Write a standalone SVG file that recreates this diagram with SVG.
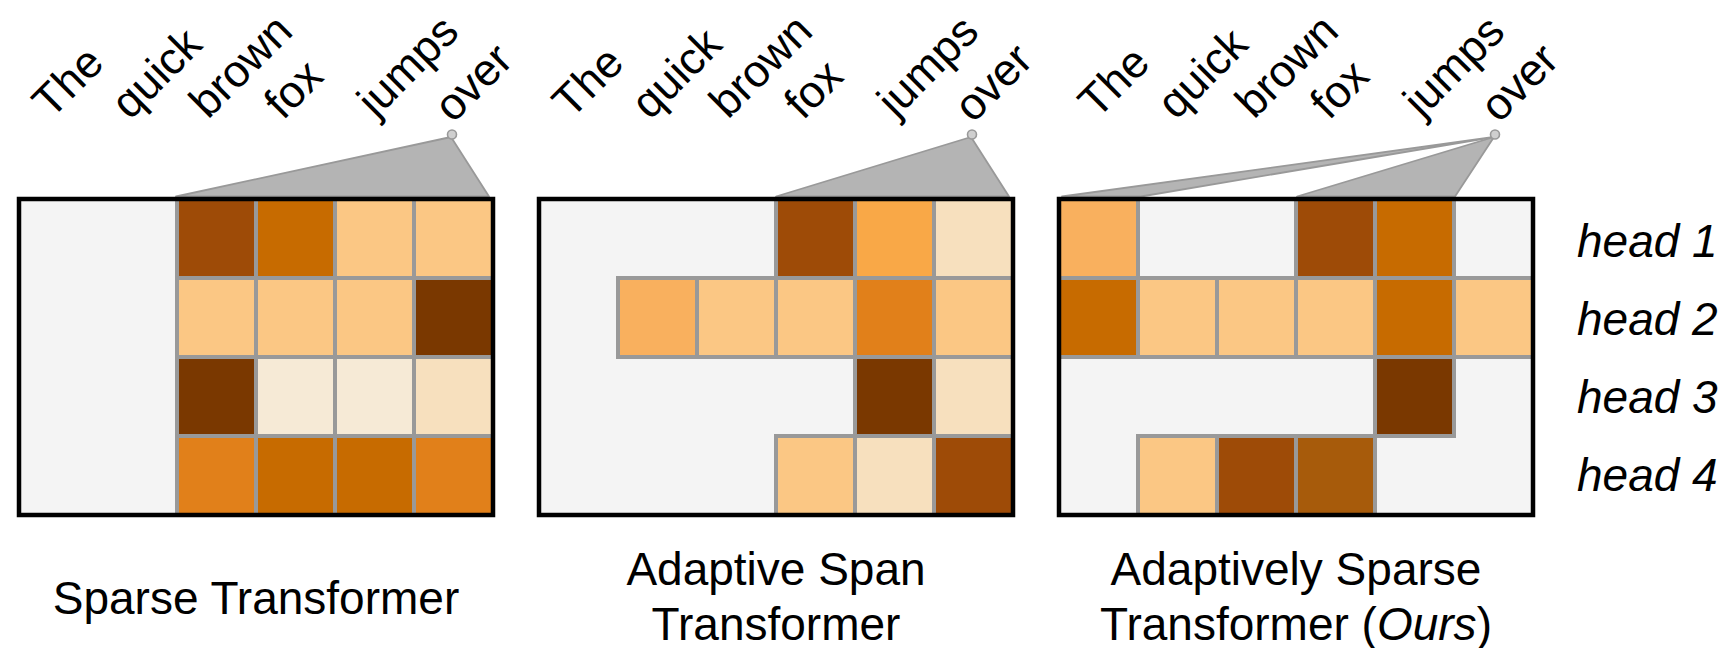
<svg xmlns="http://www.w3.org/2000/svg" width="1726" height="648" viewBox="0 0 1726 648">
<style>
.bg{fill:#ffffff}
.panel{fill:#f4f4f4;stroke:none}
.frame{fill:none;stroke:#000;stroke-width:4.5}
.c{stroke:#999;stroke-width:4}
.E{fill:#f4f4f4}.L{fill:#fbc784}.M{fill:#f9a847}.N{fill:#f9b05e}.O{fill:#e1801a}.D{fill:#c76b00}.B{fill:#9e4b07}.B2{fill:#a75b0b}.X{fill:#7a3800}.P{fill:#f7e0be}.V{fill:#f6ead6}
.fan{fill:#b4b4b4;stroke:#999;stroke-width:1.8;stroke-linejoin:round}
.dot{fill:#cfcfcf;stroke:#999;stroke-width:1.6}
.w{font-family:"Liberation Sans",Arial,sans-serif;font-size:45px;fill:#000}
.h{font-family:"Liberation Sans",Arial,sans-serif;font-size:46px;font-style:italic;fill:#000}
.t{font-family:"Liberation Sans",Arial,sans-serif;font-size:46px;fill:#000;text-anchor:middle}
</style>
<rect class="bg" x="0" y="0" width="1726" height="648"/>

<g id="connectors">
  <polygon class="fan" points="451,137 176,196.5 489,196.5"/>
  <polygon class="fan" points="971,137 776,196.5 1009,196.5"/>
  <polygon class="fan" points="1494,137 1062,196.5 1141,196.5"/>
  <polygon class="fan" points="1494,137 1297,196.5 1455,196.5"/>
  <circle class="dot" cx="452" cy="134.5" r="4.5"/>
  <circle class="dot" cx="972" cy="134.5" r="4.5"/>
  <circle class="dot" cx="1495" cy="134.5" r="4.5"/>
</g>

<g id="panel-sparse">
  <rect class="panel" x="19" y="199" width="474" height="316"/>
  <rect class="c B" x="177" y="199" width="79" height="79"/>
  <rect class="c D" x="256" y="199" width="79" height="79"/>
  <rect class="c L" x="335" y="199" width="79" height="79"/>
  <rect class="c L" x="414" y="199" width="79" height="79"/>
  <rect class="c L" x="177" y="278" width="79" height="79"/>
  <rect class="c L" x="256" y="278" width="79" height="79"/>
  <rect class="c L" x="335" y="278" width="79" height="79"/>
  <rect class="c X" x="414" y="278" width="79" height="79"/>
  <rect class="c X" x="177" y="357" width="79" height="79"/>
  <rect class="c V" x="256" y="357" width="79" height="79"/>
  <rect class="c V" x="335" y="357" width="79" height="79"/>
  <rect class="c P" x="414" y="357" width="79" height="79"/>
  <rect class="c O" x="177" y="436" width="79" height="79"/>
  <rect class="c D" x="256" y="436" width="79" height="79"/>
  <rect class="c D" x="335" y="436" width="79" height="79"/>
  <rect class="c O" x="414" y="436" width="79" height="79"/>
  <rect class="frame" x="19" y="199" width="474" height="316"/>
</g>

<g id="panel-span">
  <rect class="panel" x="539" y="199" width="474" height="316"/>
  <rect class="c B" x="776" y="199" width="79" height="79"/>
  <rect class="c M" x="855" y="199" width="79" height="79"/>
  <rect class="c P" x="934" y="199" width="79" height="79"/>
  <rect class="c N" x="618" y="278" width="79" height="79"/>
  <rect class="c L" x="697" y="278" width="79" height="79"/>
  <rect class="c L" x="776" y="278" width="79" height="79"/>
  <rect class="c O" x="855" y="278" width="79" height="79"/>
  <rect class="c L" x="934" y="278" width="79" height="79"/>
  <rect class="c X" x="855" y="357" width="79" height="79"/>
  <rect class="c P" x="934" y="357" width="79" height="79"/>
  <rect class="c L" x="776" y="436" width="79" height="79"/>
  <rect class="c P" x="855" y="436" width="79" height="79"/>
  <rect class="c B" x="934" y="436" width="79" height="79"/>
  <rect class="frame" x="539" y="199" width="474" height="316"/>
</g>

<g id="panel-ours">
  <rect class="panel" x="1059" y="199" width="474" height="316"/>
  <rect class="c N" x="1059" y="199" width="79" height="79"/>
  <rect class="c B" x="1296" y="199" width="79" height="79"/>
  <rect class="c D" x="1375" y="199" width="79" height="79"/>
  <rect class="c D" x="1059" y="278" width="79" height="79"/>
  <rect class="c L" x="1138" y="278" width="79" height="79"/>
  <rect class="c L" x="1217" y="278" width="79" height="79"/>
  <rect class="c L" x="1296" y="278" width="79" height="79"/>
  <rect class="c D" x="1375" y="278" width="79" height="79"/>
  <rect class="c L" x="1454" y="278" width="79" height="79"/>
  <rect class="c X" x="1375" y="357" width="79" height="79"/>
  <rect class="c L" x="1138" y="436" width="79" height="79"/>
  <rect class="c B" x="1217" y="436" width="79" height="79"/>
  <rect class="c B2" x="1296" y="436" width="79" height="79"/>
  <rect class="frame" x="1059" y="199" width="474" height="316"/>
</g>

<g id="words-1">
  <text class="w" transform="translate(51,120) rotate(-45)">The</text>
  <text class="w" transform="translate(130,121) rotate(-45)">quick</text>
  <text class="w" transform="translate(208,120) rotate(-45)">brown</text>
  <text class="w" transform="translate(283,121) rotate(-45)">fox</text>
  <text class="w" transform="translate(376,119) rotate(-45)">jumps</text>
  <text class="w" transform="translate(453,124) rotate(-45)">over</text>
</g>
<g id="words-2">
  <text class="w" transform="translate(571,120) rotate(-45)">The</text>
  <text class="w" transform="translate(650,121) rotate(-45)">quick</text>
  <text class="w" transform="translate(728,120) rotate(-45)">brown</text>
  <text class="w" transform="translate(803,121) rotate(-45)">fox</text>
  <text class="w" transform="translate(896,119) rotate(-45)">jumps</text>
  <text class="w" transform="translate(973,124) rotate(-45)">over</text>
</g>
<g id="words-3">
  <text class="w" transform="translate(1097,120) rotate(-45)">The</text>
  <text class="w" transform="translate(1176,121) rotate(-45)">quick</text>
  <text class="w" transform="translate(1254,120) rotate(-45)">brown</text>
  <text class="w" transform="translate(1329,121) rotate(-45)">fox</text>
  <text class="w" transform="translate(1422,119) rotate(-45)">jumps</text>
  <text class="w" transform="translate(1499,124) rotate(-45)">over</text>
</g>

<g id="heads">
  <text class="h" x="1577" y="257">head 1</text>
  <text class="h" x="1577" y="335">head 2</text>
  <text class="h" x="1577" y="413">head 3</text>
  <text class="h" x="1577" y="491">head 4</text>
</g>

<g id="titles">
  <text class="t" x="256" y="614">Sparse Transformer</text>
  <text class="t" x="776" y="585">Adaptive Span</text>
  <text class="t" x="776" y="640">Transformer</text>
  <text class="t" x="1296" y="585">Adaptively Sparse</text>
  <text class="t" x="1296" y="640">Transformer (<tspan font-style="italic">Ours</tspan>)</text>
</g>
</svg>
